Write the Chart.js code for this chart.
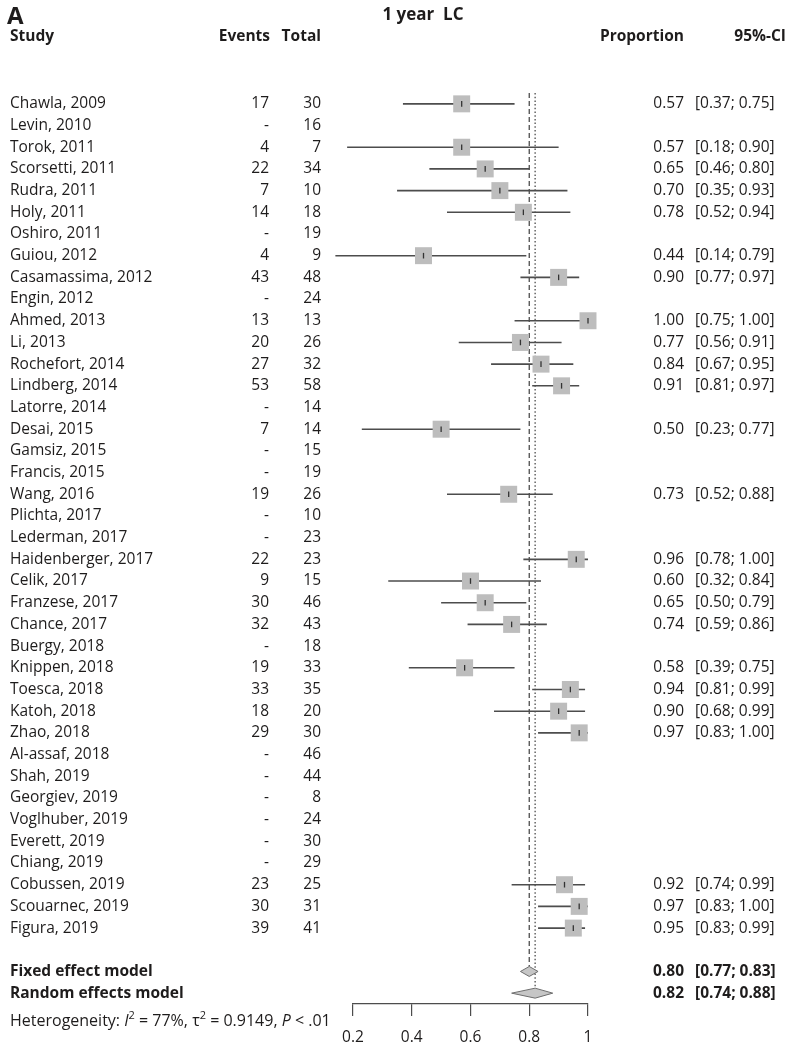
<!DOCTYPE html>
<html>
<head>
<meta charset="utf-8">
<script src="https://cdn.jsdelivr.net/npm/chart.js@4/dist/chart.umd.min.js"></script>
<style>
  body { margin: 0; background: #fff; }
  #wrap { width: 797px; height: 1050px; }
</style>
</head>
<body>
<div id="wrap"><canvas id="forest_chart" width="797" height="1050"></canvas></div>
<script>
    // study table
    const studies = ['Chawla, 2009', 'Levin, 2010', 'Torok, 2011', 'Scorsetti, 2011', 'Rudra, 2011',
        'Holy, 2011', 'Oshiro, 2011', 'Guiou, 2012', 'Casamassima, 2012', 'Engin, 2012',
        'Ahmed, 2013', 'Li, 2013', 'Rochefort, 2014', 'Lindberg, 2014', 'Latorre, 2014',
        'Desai, 2015', 'Gamsiz, 2015', 'Francis, 2015', 'Wang, 2016', 'Plichta, 2017',
        'Lederman, 2017', 'Haidenberger, 2017', 'Celik, 2017', 'Franzese, 2017', 'Chance, 2017',
        'Buergy, 2018', 'Knippen, 2018', 'Toesca, 2018', 'Katoh, 2018', 'Zhao, 2018',
        'Al-assaf, 2018', 'Shah, 2019', 'Georgiev, 2019', 'Voglhuber, 2019', 'Everett, 2019',
        'Chiang, 2019', 'Cobussen, 2019', 'Scouarnec, 2019', 'Figura, 2019'];
    const events = [17, null, 4, 22, 7, 14, null, 4, 43, null, 13, 20, 27, 53, null, 7, null, null, 19, null,
        null, 22, 9, 30, 32, null, 19, 33, 18, 29, null, null, null, null, null, null, 23, 30, 39];
    const totals = [30, 16, 7, 34, 10, 18, 19, 9, 48, 24, 13, 26, 32, 58, 14, 14, 15, 19, 26, 10,
        23, 23, 15, 46, 43, 18, 33, 35, 20, 30, 46, 44, 8, 24, 30, 29, 25, 31, 41];
    const proportions = [0.57, null, 0.57, 0.65, 0.70, 0.78, null, 0.44, 0.90, null, 1.00, 0.77, 0.84, 0.91, null,
        0.50, null, null, 0.73, null, null, 0.96, 0.60, 0.65, 0.74, null, 0.58, 0.94, 0.90, 0.97,
        null, null, null, null, null, null, 0.92, 0.97, 0.95];
    const ci_low = [0.37, null, 0.18, 0.46, 0.35, 0.52, null, 0.14, 0.77, null, 0.75, 0.56, 0.67, 0.81, null,
        0.23, null, null, 0.52, null, null, 0.78, 0.32, 0.50, 0.59, null, 0.39, 0.81, 0.68, 0.83,
        null, null, null, null, null, null, 0.74, 0.83, 0.83];
    const ci_high = [0.75, null, 0.90, 0.80, 0.93, 0.94, null, 0.79, 0.97, null, 1.00, 0.91, 0.95, 0.97, null,
        0.77, null, null, 0.88, null, null, 1.00, 0.84, 0.79, 0.86, null, 0.75, 0.99, 0.99, 1.00,
        null, null, null, null, null, null, 0.99, 1.00, 0.99];

    // pooled estimates: [estimate, lower, upper]
    const model_labels = ['Fixed effect model', 'Random effects model'];
    const model_values = [[0.80, 0.77, 0.83], [0.82, 0.74, 0.88]];

    const x_ticks = [0.2, 0.4, 0.6, 0.8, 1];
    const title_text = '1 year  LC';
    const panel_letter = 'A';

    const font_family = "'Open Sans', 'DejaVu Sans', sans-serif";
    const text_color = '#1e1c1c';
    const line_color = '#4d4d4d';
    const box_color = '#bdbdbd';

    // rows: studies 1..39, blank, fixed 41, random 42
    const n_studies = studies.length;
    const row_fixed = n_studies + 2;
    const row_random = n_studies + 3;
    const diamond_half = 0.23;

    function ci_segments() {
        var result = [];
        for (var i = 0; i < n_studies; i++) {
            if (ci_low[i] === null) continue;
            result.push({x: ci_low[i], y: i + 1});
            result.push({x: ci_high[i], y: i + 1});
            result.push({x: ci_high[i], y: null});
        }
        return result;
    }

    function point_list() {
        var result = [];
        for (var i = 0; i < n_studies; i++) {
            if (proportions[i] !== null) result.push({x: proportions[i], y: i + 1});
        }
        return result;
    }

    function diamond_half_edge(vals, row, sign) {
        return [{x: vals[1], y: row}, {x: vals[0], y: row + sign * diamond_half}, {x: vals[2], y: row}];
    }

    const diamond_style = {
        showLine: true, pointRadius: 0, borderColor: '#6e6e6e', borderWidth: 1,
        backgroundColor: '#c6c6c6', clip: false, order: 2
    };

    const text_plugin = {
        id: 'forest_text',
        afterDraw(chart) {
            const ctx = chart.ctx;
            const ys = chart.scales.y;
            const col_events = 269, col_total = 321, col_prop = 684, col_ci = 695;
            ctx.save();
            ctx.fillStyle = text_color;
            ctx.textBaseline = 'middle';

            ctx.font = `bold 24px ${font_family}`;
            ctx.textAlign = 'left';
            ctx.fillText(panel_letter, 7, 17);
            ctx.font = `bold 17px ${font_family}`;
            ctx.textAlign = 'center';
            ctx.fillText(title_text, 423, 15);

            // header
            const hy = 37;
            ctx.font = `bold 15.5px ${font_family}`;
            ctx.textAlign = 'left';
            ctx.fillText('Study', 10, hy);
            ctx.textAlign = 'right';
            ctx.fillText('Events', col_events + 1, hy);
            ctx.fillText('Total', col_total, hy);
            ctx.fillText('Proportion', col_prop, hy);
            ctx.fillText('95%-CI', 786, hy);

            // study rows
            ctx.font = `15.5px ${font_family}`;
            for (var i = 0; i < n_studies; i++) {
                const y = ys.getPixelForValue(i + 1);
                ctx.textAlign = 'left';
                ctx.fillText(studies[i], 10, y);
                ctx.textAlign = 'right';
                ctx.fillText(events[i] === null ? '-' : String(events[i]), col_events, y);
                ctx.fillText(String(totals[i]), col_total, y);
                if (proportions[i] !== null) {
                    ctx.fillText(proportions[i].toFixed(2), col_prop, y);
                    ctx.textAlign = 'left';
                    ctx.fillText(`[${ci_low[i].toFixed(2)}; ${ci_high[i].toFixed(2)}]`, col_ci, y);
                }
            }

            // pooled rows
            ctx.font = `bold 15.5px ${font_family}`;
            [row_fixed, row_random].forEach(function(row, k) {
                const y = ys.getPixelForValue(row);
                const v = model_values[k];
                ctx.textAlign = 'left';
                ctx.fillText(model_labels[k], 10, y);
                ctx.textAlign = 'right';
                ctx.fillText(v[0].toFixed(2), col_prop, y);
                ctx.textAlign = 'left';
                ctx.fillText(`[${v[1].toFixed(2)}; ${v[2].toFixed(2)}]`, col_ci, y);
            });

            // heterogeneity line
            const hy2 = 1021;
            var x = 10;
            const normal = `16px ${font_family}`;
            const italic = `italic 16px ${font_family}`;
            const small = `11px ${font_family}`;
            const parts = [
                ['Heterogeneity: ', normal, 0], ['I', italic, 0], ['2', small, -5],
                [' = 77%, ', normal, 0], ['\u03c4', normal, 0], ['2', small, -5],
                [' = 0.9149, ', normal, 0], ['P', italic, 0], [' < .01', normal, 0]
            ];
            ctx.textAlign = 'left';
            parts.forEach(function(p) {
                ctx.font = p[1];
                ctx.fillText(p[0], x, hy2 + p[2]);
                x += ctx.measureText(p[0]).width;
            });
            ctx.restore();
        }
    };

    let chartCanvas = document.getElementById('forest_chart').getContext('2d');
    let chartObject = new Chart(chartCanvas, {
        type: 'scatter',
        data: {
            datasets: [
                {
                    label: 'fixed line',
                    data: [{x: model_values[0][0], y: 0.5}, {x: model_values[0][0], y: row_fixed - diamond_half}],
                    showLine: true, pointRadius: 0, borderColor: line_color, borderWidth: 1.3,
                    borderDash: [5, 3], order: 5
                },
                {
                    label: 'random line',
                    data: [{x: model_values[1][0], y: 0.5}, {x: model_values[1][0], y: row_random - diamond_half}],
                    showLine: true, pointRadius: 0, borderColor: line_color, borderWidth: 1.3,
                    borderDash: [1.5, 2.2], order: 5
                },
                {
                    label: 'ci',
                    data: ci_segments(),
                    showLine: true, spanGaps: false, pointRadius: 0, borderColor: line_color,
                    borderWidth: 1.6, clip: false, order: 4
                },
                {
                    label: 'boxes',
                    data: point_list(),
                    pointStyle: 'rect', pointRadius: 12, backgroundColor: box_color,
                    borderWidth: 0, clip: false, order: 3
                },
                {
                    label: 'ticks',
                    data: point_list(),
                    pointStyle: 'line', rotation: 90, pointRadius: 2.8, borderColor: '#333333',
                    borderWidth: 1.3, clip: false, order: 1
                },
                Object.assign({label: 'fixed top', data: diamond_half_edge(model_values[0], row_fixed, -1)}, diamond_style),
                Object.assign({label: 'fixed bottom', data: diamond_half_edge(model_values[0], row_fixed, 1), fill: '-1'}, diamond_style),
                Object.assign({label: 'random top', data: diamond_half_edge(model_values[1], row_random, -1)}, diamond_style),
                Object.assign({label: 'random bottom', data: diamond_half_edge(model_values[1], row_random, 1), fill: '-1'}, diamond_style)
            ]
        },
        options: {
            responsive: false,
            animation: false,
            events: [],
            layout: { padding: { left: 353, right: 209, top: 93, bottom: 0 } },
            plugins: { legend: { display: false }, tooltip: { enabled: false } },
            scales: {
                x: {
                    type: 'linear',
                    min: x_ticks[0],
                    max: x_ticks[x_ticks.length - 1],
                    afterBuildTicks: function(scale) {
                        scale.ticks = x_ticks.map(v => ({value: v}));
                    },
                    afterFit: function(scale) { scale.height = 46; },
                    ticks: {
                        color: text_color,
                        padding: 12,
                        font: { family: font_family, size: 15.5 },
                        callback: v => String(v)
                    },
                    grid: { drawOnChartArea: false, drawTicks: true, tickLength: 12, color: line_color, lineWidth: 1.2 },
                    border: { color: line_color, width: 1.2 }
                },
                y: {
                    type: 'linear',
                    min: 0.5,
                    max: row_random + 0.5,
                    reverse: true,
                    display: false
                }
            }
        },
        plugins: [text_plugin]
    });
</script>
</body>
</html>
